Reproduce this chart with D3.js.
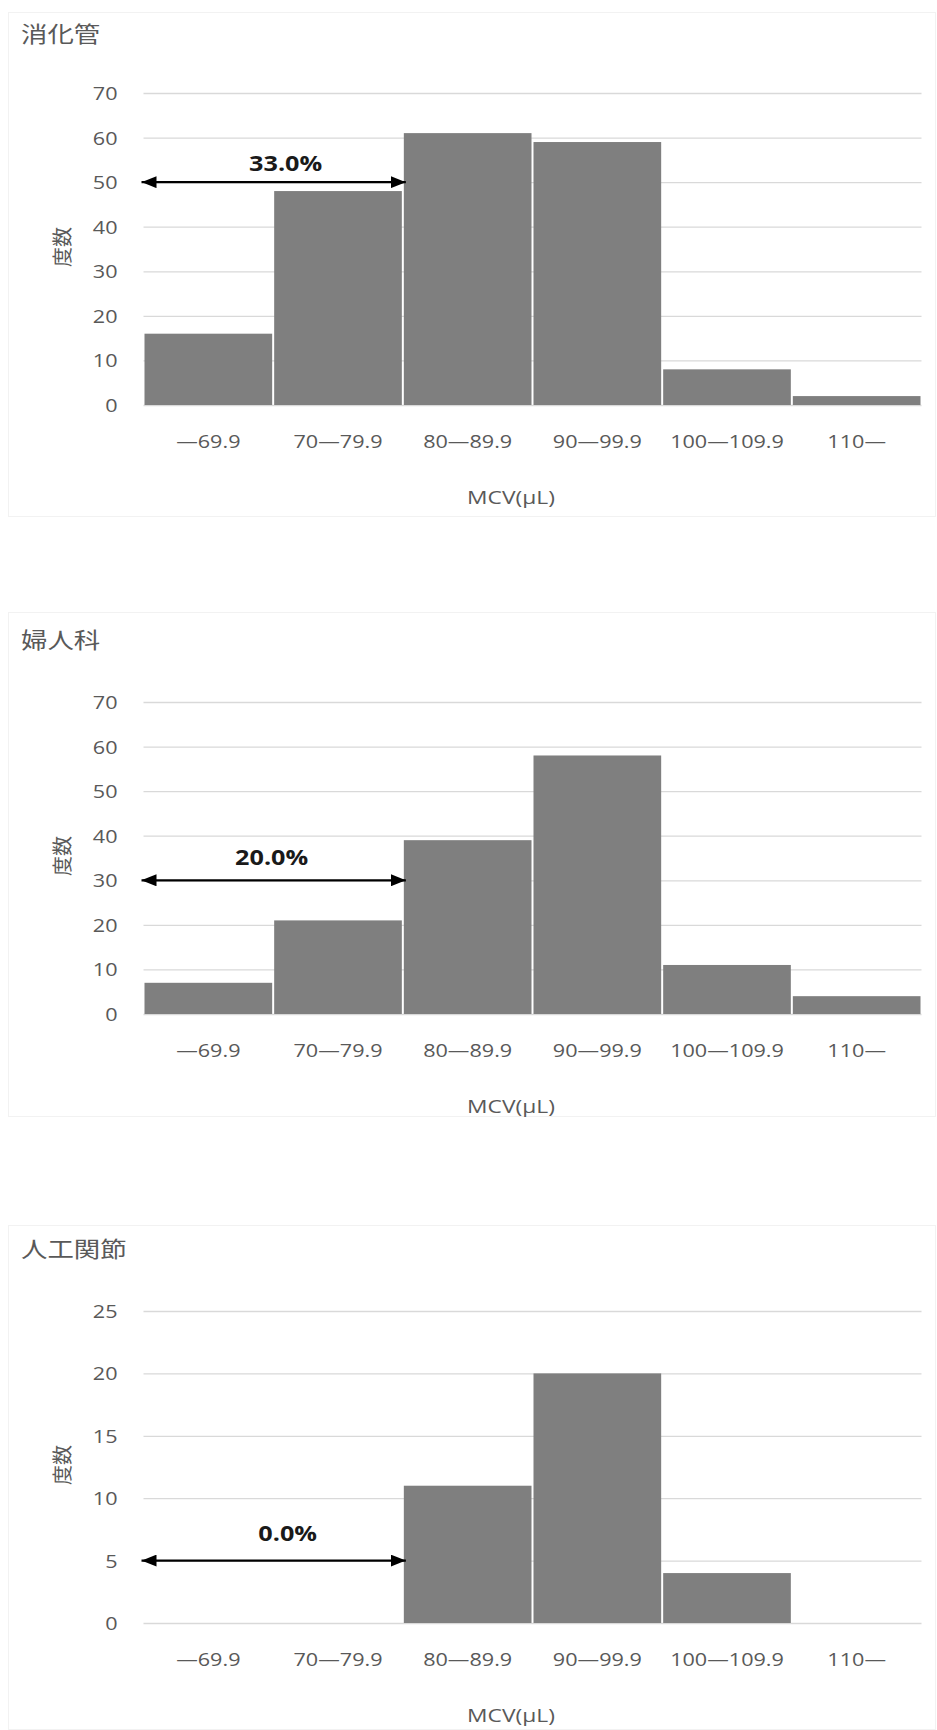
<!DOCTYPE html>
<html>
<head>
<meta charset="utf-8">
<script src="https://cdn.jsdelivr.net/npm/d3@7"></script>
<style>
  html, body { margin: 0; padding: 0; background: #ffffff; }
  svg { display: block; }
</style>
</head>
<body>
<div id="chart"></div>
<script>
// ---------------- data ----------------
const categories = ["—69.9", "70—79.9", "80—89.9", "90—99.9", "100—109.9", "110—"];
const panelTitles = ["消化管", "婦人科", "人工関節"];
const valuesDigestive = [16, 48, 61, 59, 8, 2];
const valuesGynecology = [7, 21, 39, 58, 11, 4];
const valuesJoint = [0, 0, 11, 20, 4, 0];
const yMaxes = [70, 70, 25];
const yTickSteps = [10, 10, 5];
const arrowLevels = [50, 30, 5];
const percentLabels = ["33.0%", "20.0%", "0.0%"];
const yAxisTitle = "度数";
const xAxisTitle = "MCV(μL)";

const seriesList = [valuesDigestive, valuesGynecology, valuesJoint];

// ---------------- layout ----------------
const W = 937, H = 1730;
const plotLeft = 143.5, plotRight = 921.5;
const zeroLines = [405, 1014, 1623];
const plotH = 312;
const boxTops = [12, 612, 1225];
const boxH = 504;
const titleDY = [-363, -366, -366];
const labelDX = [12, -2, 14];
const labelDY = [11, 15, 20];
const SX = 1.2; // horizontal text stretch of the reference
const numFont = "'Open Sans', 'Noto Sans', sans-serif";
const jpFont = "'Noto Sans CJK JP', 'Noto Sans', sans-serif";
const textColor = "#595959";

const svg = d3.select("#chart").append("svg")
  .attr("width", W).attr("height", H)
  .attr("viewBox", `0 0 ${W} ${H}`);

const defs = svg.append("defs");
defs.append("marker")
  .attr("id", "arrowHead")
  .attr("viewBox", "0 0 15 12")
  .attr("refX", 15).attr("refY", 6)
  .attr("markerUnits", "userSpaceOnUse")
  .attr("markerWidth", 15).attr("markerHeight", 12)
  .attr("orient", "auto-start-reverse")
  .append("path")
  .attr("d", "M0,0 L15,6 L0,12 Z")
  .attr("fill", "#000");

const x = d3.scaleBand().domain(categories).range([plotLeft, plotRight]).padding(0);

seriesList.forEach((values, i) => {
  const z = zeroLines[i];
  const y = d3.scaleLinear().domain([0, yMaxes[i]]).range([z, z - plotH]);
  const ticks = d3.range(0, yMaxes[i] + 0.001, yTickSteps[i]);
  const g = svg.append("g");

  // faint chart-area border
  g.append("rect")
    .attr("x", 8.5).attr("y", boxTops[i] + 0.5)
    .attr("width", 927).attr("height", boxH)
    .attr("fill", "none").attr("stroke", "#f2f2f2").attr("stroke-width", 1);

  // title
  g.append("text")
    .attr("transform", `translate(21, ${z + titleDY[i]}) scale(${SX},1)`)
    .attr("font-family", jpFont).attr("font-size", 22)
    .attr("fill", textColor)
    .text(panelTitles[i]);

  // gridlines
  const grid = g.append("g")
    .attr("transform", `translate(${plotLeft},0)`)
    .call(d3.axisLeft(y).tickValues(ticks).tickSize(-(plotRight - plotLeft)).tickFormat(""));
  grid.select(".domain").remove();
  grid.selectAll(".tick line").attr("stroke", "#d9d9d9").attr("stroke-width", 1.3);

  // bars
  g.append("g").selectAll("rect")
    .data(categories.map((c, k) => ({ c, v: values[k] })).filter(d => d.v > 0))
    .join("rect")
    .attr("x", d => x(d.c) + 1)
    .attr("width", x.bandwidth() - 2)
    .attr("y", d => y(d.v))
    .attr("height", d => y(0) - y(d.v))
    .attr("fill", "#7f7f7f");

  // y axis labels
  const yAx = g.append("g")
    .attr("transform", `translate(${plotLeft},0)`)
    .call(d3.axisLeft(y).tickValues(ticks).tickSize(0).tickFormat(d3.format("d")));
  yAx.select(".domain").remove();
  yAx.selectAll(".tick text")
    .attr("x", 0).attr("dy", "0.36em")
    .attr("transform", `translate(-26,0) scale(${SX},1)`)
    .attr("text-anchor", "end")
    .attr("font-family", numFont).attr("font-size", 18)
    .attr("fill", textColor);

  // x axis labels
  const xAx = g.append("g")
    .attr("transform", `translate(0,${z})`)
    .call(d3.axisBottom(x).tickSize(0));
  xAx.select(".domain").remove();
  xAx.selectAll(".tick text")
    .attr("y", 0).attr("dy", 0)
    .attr("transform", `translate(0,43) scale(${SX},1)`)
    .attr("text-anchor", "middle")
    .attr("font-family", numFont).attr("font-size", 18)
    .attr("fill", textColor);

  // axis titles
  g.append("text")
    .attr("transform", `translate(511, ${z + 99}) scale(${SX},1)`)
    .attr("text-anchor", "middle")
    .attr("font-family", numFont).attr("font-size", 19)
    .attr("fill", textColor)
    .text(xAxisTitle);

  g.append("text")
    .attr("transform", `translate(70, ${z - 158}) rotate(-90)`)
    .attr("text-anchor", "middle")
    .attr("font-family", jpFont).attr("font-size", 20)
    .attr("fill", textColor)
    .text(yAxisTitle);

  // double arrow from the left edge to the start of the 80—89.9 bin
  const ay = y(arrowLevels[i]);
  const ax0 = x(categories[0]) - 2;
  const ax1 = x(categories[2]) + 3;
  g.append("line")
    .attr("x1", ax0).attr("x2", ax1)
    .attr("y1", ay).attr("y2", ay)
    .attr("stroke", "#000").attr("stroke-width", 2.2)
    .attr("marker-start", "url(#arrowHead)")
    .attr("marker-end", "url(#arrowHead)");

  g.append("text")
    .attr("transform", `translate(${(ax0 + ax1) / 2 + labelDX[i]}, ${ay - labelDY[i]}) scale(${SX},1)`)
    .attr("text-anchor", "middle")
    .attr("font-family", numFont).attr("font-size", 21).attr("font-weight", "bold")
    .attr("fill", "#1a1a1a")
    .text(percentLabels[i]);
});
</script>
</body>
</html>
